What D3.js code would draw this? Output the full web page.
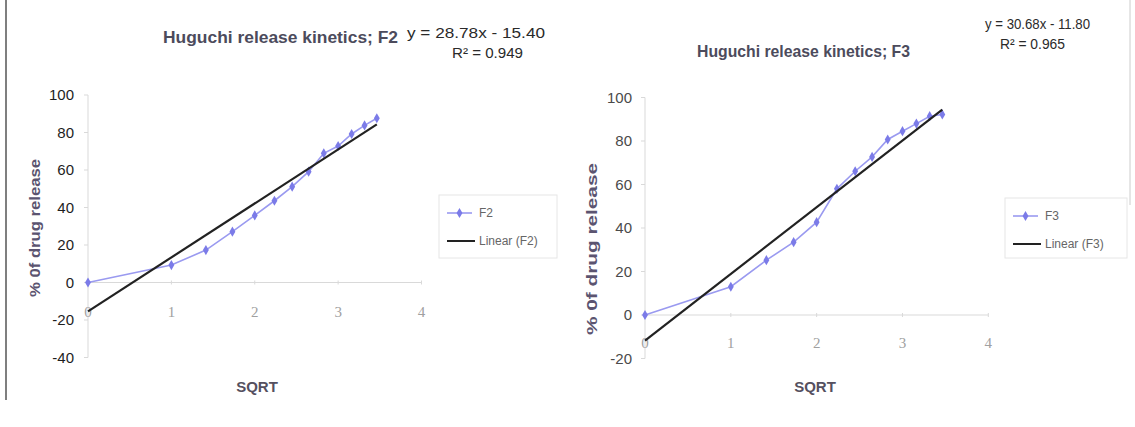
<!DOCTYPE html>
<html><head><meta charset="utf-8">
<script src="https://cdn.jsdelivr.net/npm/d3@7"></script>
<style>html,body{margin:0;padding:0;background:#fff;}svg{display:block;font-family:"Liberation Sans",Arial,sans-serif;}</style>
</head><body><svg id="c" width="1135" height="427"></svg>
<script>
// ---- data ----
const sqrtT = [0, 1, 1.414, 1.732, 2, 2.236, 2.449, 2.646, 2.828, 3, 3.162, 3.317, 3.464];
const f2Values = [0, 9.3, 17.3, 27.1, 35.8, 43.6, 51.1, 59.1, 68.9, 72.8, 79.2, 83.8, 87.6];
const f3Values = [0, 13, 25.2, 33.5, 42.7, 58, 66.1, 72.7, 80.7, 84.5, 88, 91.4, 92.2];
const f2Fit = [28.78, -15.40];   // slope, intercept
const f3Fit = [30.68, -11.80];
const f2Eq = ["y = 28.78x - 15.40", "R² = 0.949"];
const f3Eq = ["y = 30.68x - 11.80", "R² = 0.965"];
const xTicks = [0, 1, 2, 3, 4];
const f2YTicks = [-40, -20, 0, 20, 40, 60, 80, 100];
const f3YTicks = [-20, 0, 20, 40, 60, 80, 100];
const titles = ["Huguchi release kinetics; F2", "Huguchi release kinetics; F3"];
const seriesNames = ["F2", "F3"];
const yTitle = "% 0f drug release";
const xTitle = "SQRT";

const svg = d3.select("#c");
// page borders
svg.append("line").attr("x1",6).attr("x2",6).attr("y1",0).attr("y2",400).attr("stroke","#555").attr("stroke-width",1.5);
svg.append("line").attr("x1",1130).attr("x2",1130).attr("y1",0).attr("y2",205).attr("stroke","#ccc").attr("stroke-width",1);

function drawChart(cfg){
  const g = svg.append("g");
  const x = d3.scaleLinear().domain([0,4]).range([cfg.x0, cfg.x4]);
  const y = d3.scaleLinear().domain(cfg.yDomain).range([cfg.yBottom, cfg.yTop]);
  const axisCol = "#d9d9d9";
  // y axis line
  g.append("line").attr("x1",x(0)).attr("x2",x(0)).attr("y1",y(cfg.yDomain[0])).attr("y2",y(cfg.yDomain[1])).attr("stroke",axisCol);
  // y ticks
  cfg.yTicks.forEach(t=>{
    g.append("line").attr("x1",x(0)-4).attr("x2",x(0)).attr("y1",y(t)).attr("y2",y(t)).attr("stroke",axisCol);
    g.append("text").attr("x",x(0)-cfg.yLabelGap).attr("y",y(t)).attr("dy","0.35em").attr("text-anchor","end")
      .attr("font-size",cfg.yLabelSize).attr("fill",cfg.yLabelCol).text(t);
  });
  // x axis at 0
  g.append("line").attr("x1",x(0)).attr("x2",x(4)).attr("y1",y(0)).attr("y2",y(0)).attr("stroke",axisCol);
  xTicks.forEach(t=>{
    g.append("line").attr("x1",x(t)).attr("x2",x(t)).attr("y1",y(0)-2).attr("y2",y(0)+2).attr("stroke",axisCol);
    g.append("text").attr("x",x(t)).attr("y",cfg.xLabelY).attr("dy","0.35em").attr("text-anchor","middle")
      .attr("font-family","'Liberation Serif',serif").attr("font-size",15).attr("fill","#a0a0a0").text(t);
  });
  // series
  const pts = sqrtT.map((s,i)=>[s,cfg.values[i]]);
  g.append("path").attr("d",d3.line().x(d=>x(d[0])).y(d=>y(d[1]))(pts)).attr("fill","none").attr("stroke","#9a9af0").attr("stroke-width",1.6);
  g.selectAll(null).data(pts).join("path").attr("transform",d=>`translate(${x(d[0])},${y(d[1])})`)
    .attr("d",d3.symbol(d3.symbolDiamond,30)()).attr("fill","#7b7be8");
  // trend line
  const tx = [sqrtT[0], sqrtT[sqrtT.length-1]];
  g.append("line").attr("x1",x(tx[0])).attr("y1",y(cfg.fit[0]*tx[0]+cfg.fit[1]))
    .attr("x2",x(tx[1])).attr("y2",y(cfg.fit[0]*tx[1]+cfg.fit[1])).attr("stroke","#222").attr("stroke-width",2.2);
  // title
  g.append("text").attr("x",cfg.titleX).attr("y",cfg.titleY).attr("font-size",17).attr("font-weight","bold")
    .attr("fill","#4c4b5c").attr("textLength",cfg.titleW).attr("lengthAdjust","spacingAndGlyphs").text(cfg.title);
  // equation
  g.append("text").attr("x",cfg.eqX).attr("y",cfg.eqY).attr("font-size",14).attr("fill","#2a2a2a")
    .attr("textLength",cfg.eqW).attr("lengthAdjust","spacingAndGlyphs").text(cfg.eq[0]);
  g.append("text").attr("x",cfg.r2X).attr("y",cfg.eqY+20).attr("font-size",14).attr("fill","#2a2a2a")
    .attr("textLength",cfg.r2W).attr("lengthAdjust","spacingAndGlyphs").text(cfg.eq[1]);
  // axis titles
  g.append("text").attr("transform",`translate(${cfg.yTitleX},${cfg.yTitleY}) rotate(-90)`).attr("text-anchor","middle")
    .attr("dy","0.35em").attr("font-size",cfg.yTitleSize).attr("font-weight","bold").attr("fill","#5b5470")
    .attr("textLength",cfg.yTitleW).attr("lengthAdjust","spacingAndGlyphs").text(yTitle);
  g.append("text").attr("x",cfg.xTitleX).attr("y",cfg.xTitleY).attr("dy","0.35em").attr("text-anchor","middle")
    .attr("font-size",15).attr("font-weight","bold").attr("fill","#55505f").text(xTitle);
  // legend
  const L = cfg.legend;
  g.append("rect").attr("x",L.x).attr("y",L.y).attr("width",L.w).attr("height",L.h).attr("fill","#fff").attr("stroke","#e6e6e6");
  const r1 = L.y+18, r2 = L.y+46;
  g.append("line").attr("x1",L.x+8).attr("x2",L.x+33).attr("y1",r1).attr("y2",r1).attr("stroke","#9a9af0").attr("stroke-width",1.6);
  g.append("path").attr("transform",`translate(${L.x+20.5},${r1})`).attr("d",d3.symbol(d3.symbolDiamond,30)()).attr("fill","#7b7be8");
  g.append("text").attr("x",L.x+40).attr("y",r1).attr("dy","0.35em").attr("font-size",12).attr("fill","#666").text(cfg.name);
  g.append("line").attr("x1",L.x+8).attr("x2",L.x+36).attr("y1",r2).attr("y2",r2).attr("stroke","#222").attr("stroke-width",2);
  g.append("text").attr("x",L.x+40).attr("y",r2).attr("dy","0.35em").attr("font-size",12).attr("fill","#666").text(`Linear (${cfg.name})`);
}

drawChart({values:f2Values, fit:f2Fit, eq:f2Eq, title:titles[0], name:seriesNames[0],
  x0:88, x4:421.5, yDomain:[-40,100], yBottom:357.5, yTop:95, yTicks:f2YTicks,
  yLabelGap:14, yLabelSize:15, yLabelCol:"#1e1e1e", xLabelY:312,
  titleX:163, titleY:43, titleW:235, eqX:407, eqY:38, eqW:138, r2X:452, r2W:71,
  yTitleX:35, yTitleY:228, yTitleSize:14, yTitleW:138, xTitleX:257, xTitleY:387,
  legend:{x:439, y:195, w:118, h:63}});

drawChart({values:f3Values, fit:f3Fit, eq:f3Eq, title:titles[1], name:seriesNames[1],
  x0:645, x4:988.3, yDomain:[-20,100], yBottom:358.5, yTop:97.5, yTicks:f3YTicks,
  yLabelGap:13, yLabelSize:15, yLabelCol:"#4a4a4a", xLabelY:343,
  titleX:697, titleY:57, titleW:213, eqX:985, eqY:29, eqW:105, r2X:1000, r2W:65,
  yTitleX:592, yTitleY:249, yTitleSize:15, yTitleW:172, xTitleX:815, xTitleY:387,
  legend:{x:1005, y:198, w:122, h:60}});
</script></body></html>
